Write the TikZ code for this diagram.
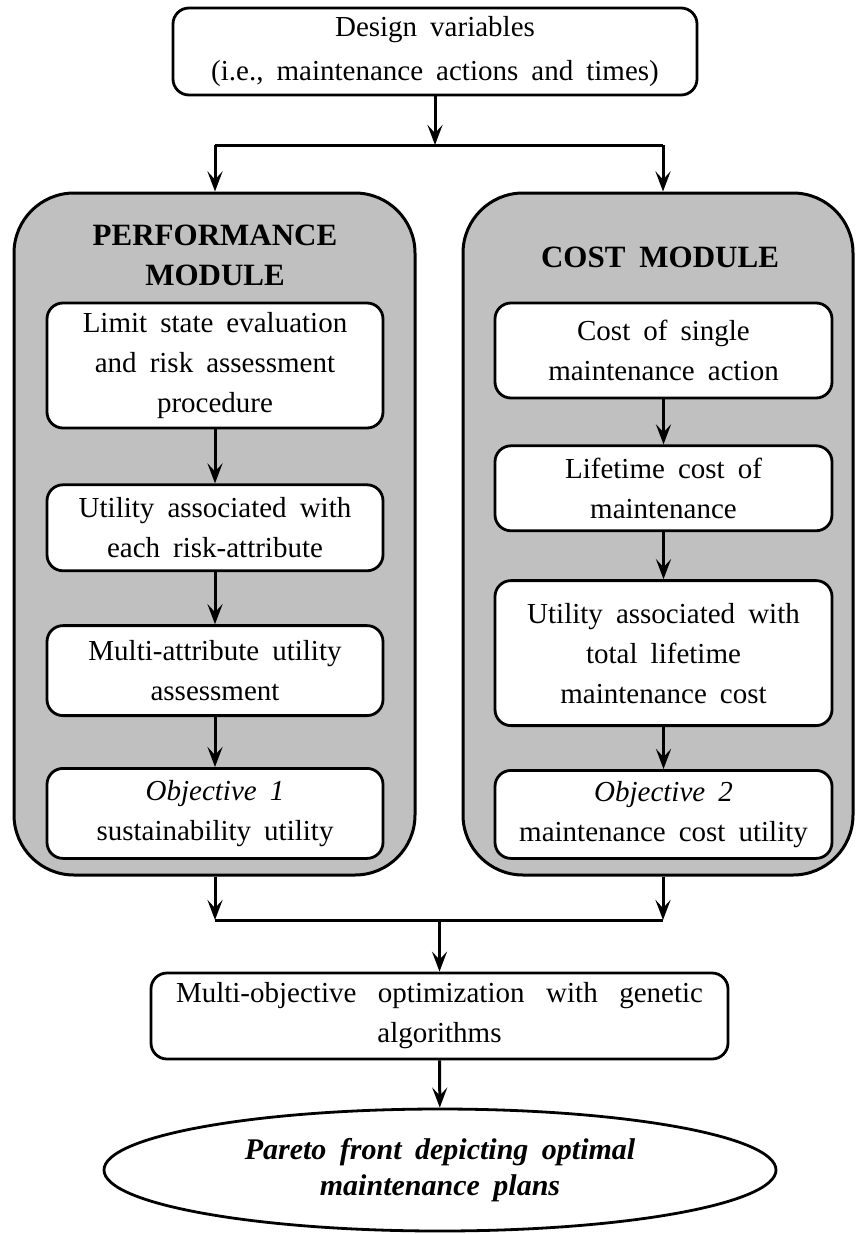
\documentclass[tikz,border=0pt]{standalone}
\usepackage{fontspec}
\setmainfont{Liberation Serif}[WordSpace=1.8]
\usetikzlibrary{positioning, arrows.meta, shapes.geometric}
\definecolor{modfill}{HTML}{C0C0C0}

\begin{document}
\begin{tikzpicture}[
        x=1pt, y=-1pt,
        node distance=50pt,
        box/.style={rectangle, draw, line width=2.8pt, fill=white,
                    rounded corners=16pt, align=center, inner sep=6pt,
                    font=\fontsize{29}{40}\selectfont},
        module/.style={rectangle, draw, line width=3pt, fill=modfill,
                    rounded corners=60pt},
        title/.style={align=center, font=\fontsize{31}{40}\selectfont\bfseries},
        arrow/.style={-{Stealth[length=20pt, width=15pt, inset=8pt]}, line width=3pt},
        link/.style={line width=3pt}
      ]
        \useasboundingbox (0,0) rectangle (855,1234);

        % input
        \node[box, minimum width=524pt, minimum height=87pt,
              font=\fontsize{29}{44}\selectfont] (design) at (435,51.5)
              {Design variables\\(i.e., maintenance actions and times)};

        % the two modules
        \node[module, minimum width=401pt, minimum height=682pt] (perfmod) at (214.5,534) {};
        \node[module, minimum width=390pt, minimum height=682pt] (costmod) at (658,534) {};
        \node[title] (perftitle) at (215,255) {PERFORMANCE\\MODULE};
        \node[title] (costtitle) at (660,257) {COST MODULE};

        % performance module
        \node[box, minimum width=336pt, minimum height=125pt] (limit) at (215,365.5)
              {Limit state evaluation\\and risk assessment\\procedure};
        \node[box, minimum width=336pt, minimum height=86pt, below=54pt of limit] (riskutil)
              {Utility associated with\\each risk-attribute};
        \node[box, minimum width=336pt, minimum height=90pt, below=52pt of riskutil] (multi)
              {Multi-attribute utility\\assessment};
        \node[box, minimum width=336pt, minimum height=90pt, below=50pt of multi] (obj1)
              {\textit{Objective 1}\\sustainability utility};

        % cost module
        \node[box, minimum width=337pt, minimum height=95pt] (single) at (663.5,350.5)
              {Cost of single\\maintenance action};
        \node[box, minimum width=337pt, minimum height=85pt, below=45pt of single] (lifecost)
              {Lifetime cost of\\maintenance};
        \node[box, minimum width=337pt, minimum height=145pt, below=47pt of lifecost] (costutil)
              {Utility associated with\\total lifetime\\maintenance cost};
        \node[box, minimum width=337pt, minimum height=88pt, below=42pt of costutil] (obj2)
              {\textit{Objective 2}\\maintenance cost utility};

        % optimization and result
        \node[box, minimum width=577pt, minimum height=86pt] (optim) at (439.5,1016)
              {\makebox[527pt][s]{Multi-objective optimization with genetic}\\algorithms};
        \node[ellipse, draw, line width=2.8pt, minimum width=672pt, minimum height=122pt,
              inner sep=0pt, align=center, font=\fontsize{30}{36}\selectfont\bfseries\itshape]
              (pareto) at (440,1170) {Pareto front depicting optimal\\maintenance plans};

        % split
        \coordinate (splitL) at (215,145);
        \coordinate (splitR) at (663,145);
        \draw[arrow] (design.south) -- (design.south |- splitL);
        \draw[link] (splitL) -- (splitR);
        \draw[arrow] (splitL) -- (splitL |- perfmod.north);
        \draw[arrow] (splitR) -- (splitR |- costmod.north);

        \draw[arrow] (limit) -- (riskutil);
        \draw[arrow] (riskutil) -- (multi);
        \draw[arrow] (multi) -- (obj1);
        \draw[arrow] (single) -- (lifecost);
        \draw[arrow] (lifecost) -- (costutil);
        \draw[arrow] (costutil) -- (obj2);

        % join
        \coordinate (joinL) at (215,920);
        \coordinate (joinR) at (663,920);
        \draw[arrow] (joinL |- perfmod.south) -- (joinL);
        \draw[arrow] (joinR |- costmod.south) -- (joinR);
        \draw[link] (joinL) -- (joinR);
        \draw[arrow] (optim.north |- joinL) -- (optim);
        \draw[arrow] (optim) -- (pareto);
      \end{tikzpicture}
\end{document}
